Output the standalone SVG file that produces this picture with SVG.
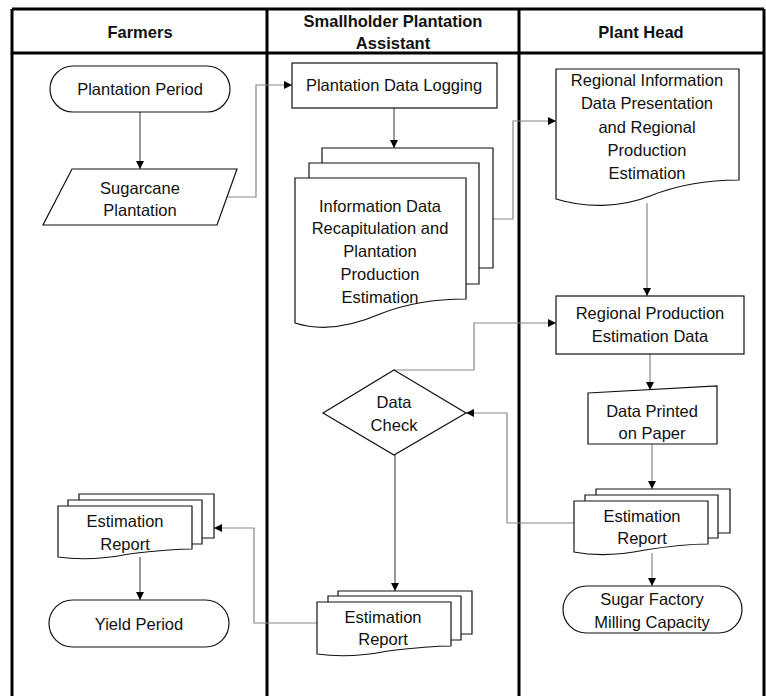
<svg xmlns="http://www.w3.org/2000/svg" width="766" height="696" viewBox="0 0 766 696">
<style>
.t{font-family:"Liberation Sans",Arial,sans-serif;font-size:16.5px;fill:#111;text-anchor:middle;dominant-baseline:central}
.h{font-weight:bold}
.s{fill:#fff;stroke:#111;stroke-width:1.2}
.frame{stroke:#000;stroke-width:3;fill:none}
.cd{fill:none;stroke:#333;stroke-width:1}
.cg{fill:none;stroke:#888;stroke-width:1.2}
</style>
<defs>
<marker id="ar" viewBox="0 0 10 10" refX="10" refY="5" markerWidth="8" markerHeight="8" markerUnits="userSpaceOnUse" orient="auto">
<path d="M0,0 L10,5 L0,10 Z" fill="#000"/>
</marker>
</defs>
<rect width="766" height="696" fill="#fff"/>
<g id="frame">
<path class="frame" d="M12,9 H764 M12,53 H764 M12,9 V696 M267,9 V696 M519,9 V696 M764,9 V696"/>
<text class="t h" x="140" y="32">Farmers</text>
<text class="t h" x="393" y="21">Smallholder Plantation</text>
<text class="t h" x="393" y="43">Assistant</text>
<text class="t h" x="641" y="32">Plant Head</text>
</g>
<g id="connectors">
<path class="cd" d="M140,112 V169" marker-end="url(#ar)"/>
<path class="cg" d="M227,197 H256 V85 H292" marker-end="url(#ar)"/>
<path class="cd" d="M394,107 V148" marker-end="url(#ar)"/>
<path class="cg" d="M493,219 H513 V121 H556" marker-end="url(#ar)"/>
<path class="cg" d="M647,203 V296" marker-end="url(#ar)"/>
<path class="cg" d="M394,370 H474 V323 H556" marker-end="url(#ar)"/>
<path class="cg" d="M650,354 V390" marker-end="url(#ar)"/>
<path class="cg" d="M652,444 V489" marker-end="url(#ar)"/>
<path class="cg" d="M574,523 H507 V413 H466" marker-end="url(#ar)"/>
<path class="cg" d="M652,553 V586" marker-end="url(#ar)"/>
<path class="cd" d="M395,455 V591" marker-end="url(#ar)"/>
<path class="cg" d="M317,623 H254 V528 H214" marker-end="url(#ar)"/>
<path class="cd" d="M140,557 V600" marker-end="url(#ar)"/>
</g>
<g id="plantation-period">
<rect class="s" x="50" y="66" width="180" height="46" rx="23"/>
<text class="t" x="140" y="89">Plantation Period</text>
</g>
<g id="sugarcane-plantation">
<path class="s" d="M72,169 H237 L217,225 H43 Z"/>
<text class="t" x="140" y="188">Sugarcane</text>
<text class="t" x="140" y="210">Plantation</text>
</g>
<g id="plantation-data-logging">
<rect class="s" x="292" y="63" width="205" height="45"/>
<text class="t" x="394" y="85">Plantation Data Logging</text>
</g>
<g id="information-data-recap">
<path class="s" d="M322,148 H493 V268 H322 Z"/>
<path class="s" d="M309,163 H479 V284 H309 Z"/>
<path class="s" d="M295,178 H466 V299 C440,299 410,302 380,314 C350,327 320,331 295,323 Z"/>
<text class="t" x="380" y="206">Information Data</text>
<text class="t" x="380" y="228">Recapitulation and</text>
<text class="t" x="380" y="251">Plantation</text>
<text class="t" x="380" y="274">Production</text>
<text class="t" x="380" y="297">Estimation</text>
</g>
<g id="regional-information">
<path class="s" d="M556,69 H739 V180 C710,180 680,184 650,196 C620,208 585,208 556,199 Z"/>
<text class="t" x="647" y="80">Regional Information</text>
<text class="t" x="647" y="103">Data Presentation</text>
<text class="t" x="647" y="127">and Regional</text>
<text class="t" x="647" y="150">Production</text>
<text class="t" x="647" y="173">Estimation</text>
</g>
<g id="regional-production-estimation-data">
<rect class="s" x="556" y="296" width="188" height="58"/>
<text class="t" x="650" y="313">Regional Production</text>
<text class="t" x="650" y="336">Estimation Data</text>
</g>
<g id="data-check">
<path class="s" d="M394,370 L466,413 L394,455 L323,413 Z"/>
<text class="t" x="394" y="402">Data</text>
<text class="t" x="394" y="425">Check</text>
</g>
<g id="data-printed-on-paper">
<path class="s" d="M588,393 L717,386 V444 H588 Z"/>
<text class="t" x="652" y="411">Data Printed</text>
<text class="t" x="652" y="433">on Paper</text>
</g>
<g id="estimation-report-plant-head">
<path class="s" d="M596,489 H730 V533 H596 Z"/>
<path class="s" d="M585,495 H718 V538 H585 Z"/>
<path class="s" d="M574,501 H708 V544 C690,544 670,546 645,550 C620,555 595,556 574,552 Z"/>
<text class="t" x="642" y="516">Estimation</text>
<text class="t" x="642" y="538">Report</text>
</g>
<g id="sugar-factory-milling-capacity">
<rect class="s" x="563" y="586" width="179" height="47" rx="23.5"/>
<text class="t" x="652" y="599">Sugar Factory</text>
<text class="t" x="652" y="622">Milling Capacity</text>
</g>
<g id="estimation-report-assistant">
<path class="s" d="M338,591 H472 V634 H338 Z"/>
<path class="s" d="M328,596 H461 V640 H328 Z"/>
<path class="s" d="M317,602 H451 V646 C433,646 413,648 388,651 C363,656 338,657 317,654 Z"/>
<text class="t" x="383" y="617">Estimation</text>
<text class="t" x="383" y="639">Report</text>
</g>
<g id="estimation-report-farmers">
<path class="s" d="M79,494 H214 V538 H79 Z"/>
<path class="s" d="M68,500 H202 V544 H68 Z"/>
<path class="s" d="M58,506 H192 V549 C174,549 154,551 129,554 C104,559 79,560 58,557 Z"/>
<text class="t" x="125" y="521">Estimation</text>
<text class="t" x="125" y="544">Report</text>
</g>
<g id="yield-period">
<rect class="s" x="49" y="600" width="180" height="47" rx="23.5"/>
<text class="t" x="139" y="624">Yield Period</text>
</g>
</svg>
